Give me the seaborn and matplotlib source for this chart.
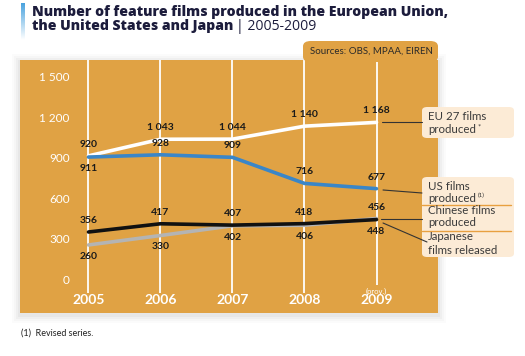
import numpy as np
import pandas as pd
import matplotlib
matplotlib.use("Agg")
import matplotlib.pyplot as plt
import seaborn as sns
from matplotlib.patches import FancyBboxPatch, Rectangle

years = [2005, 2006, 2007, 2008, 2009]
eu27 = [920, 1043, 1044, 1140, 1168]
us = [911, 928, 909, 716, 677]
chinese = [260, 330, 402, 406, 456]
japanese = [356, 417, 407, 418, 448]
yticks = [0, 300, 600, 900, 1200, 1500]
ytick_labels = ["0", "300", "600", "900", "1 200", "1 500"]

series_names = ["EU 27", "US", "Chinese", "Japanese"]
series_vals = [eu27, us, chinese, japanese]
colors = {"EU 27": "#ffffff", "US": "#3a86c8", "Chinese": "#b4b4b4", "Japanese": "#111111"}

df = pd.DataFrame({
    "year": years * 4,
    "value": eu27 + us + chinese + japanese,
    "series": [s for s in series_names for _ in years],
})

W, H = 525, 356
ORANGE = "#e0a244"
sns.set_style("white")
plt.rcParams["font.family"] = ["Lato", "DejaVu Sans"]

fig = plt.figure(figsize=(W / 100, H / 100), dpi=100)

def fx(px):
    return px / W

def fy(py):
    return 1 - py / H

# soft shadow behind the panel
for i, a in enumerate([0.06, 0.05, 0.04, 0.03]):
    d = 2 + i * 2
    fig.patches.append(Rectangle((fx(20 - d), fy(313 + d + 2)), fx(418 + 2 * d), (253 + 2 * d) / H,
                                 transform=fig.transFigure, color="#808080", alpha=a, lw=0, zorder=0))

# panel axes
ax = fig.add_axes([fx(20), fy(313), fx(418), 253 / H])
ax.set_zorder(1)
ax.set_facecolor(ORANGE)
for s in ax.spines.values():
    s.set_visible(False)
ax.set_xlim(2004.049, 2009.854)
ax.set_ylim(-244, 1630)
ax.set_xticks([])
ax.set_yticks([])

ax.vlines(years[:-1], -96, 1630, color="white", lw=1.3, zorder=1)
ax.vlines(years[-1:], -35, 1630, color="white", lw=1.3, zorder=1)

sns.lineplot(data=df, x="year", y="value", hue="series", palette=colors,
             linewidth=2.6, legend=False, ax=ax, zorder=3)
ax.set_xlabel("")
ax.set_ylabel("")

# y labels
for v, lab in zip(yticks, ytick_labels):
    ax.text(2004.74, v, lab, color="white", fontsize=8.5, ha="right", va="center")
# x labels
for yr in years:
    ax.text(yr, -150, str(yr), color="white", fontsize=10, fontweight="bold", ha="center", va="center")
ax.text(2009, -85, "(prov.)", color="white", fontsize=5.5, ha="center", va="center")

def fmt(v):
    return f"{v:,}".replace(",", " ")

# value labels: +1 above, -1 below
positions = {
    "EU 27": [1, 1, 1, 1, 1],
    "US": [-1, 1, 1, 1, 1],
    "Chinese": [-1, -1, -1, -1, 1],
    "Japanese": [1, 1, 1, 1, -1],
}
for name, vals in zip(series_names, series_vals):
    for yr, v, p in zip(years, vals, positions[name]):
        ax.annotate(fmt(v), (yr, v), xytext=(0, 5 * p), textcoords="offset points",
                    ha="center", va="bottom" if p > 0 else "top", fontsize=7.5,
                    fontweight="bold", color="#1a1a1a", zorder=5)

# title and blue bar
grad = np.linspace(1, 0, 50).reshape(-1, 1)
bax = fig.add_axes([fx(21), fy(40), fx(4), 37 / H])
bax.imshow(grad, aspect="auto", cmap=matplotlib.colors.LinearSegmentedColormap.from_list(
    "b", ["#ffffff", "#4aa3df"]), vmin=0, vmax=1)
bax.axis("off")
tfont = ["Open Sans", "DejaVu Sans"]
t1 = fig.text(fx(32), fy(12), "Number of feature films produced in the European Union,",
              fontsize=10, fontweight="heavy", color="#1c1c3c", va="center", family=tfont)
t2 = fig.text(fx(32), fy(26), "the United States and Japan", fontsize=10,
              fontweight="heavy", color="#1c1c3c", va="center", family=tfont)
fig.canvas.draw()
w1 = t1.get_window_extent().width
size = 10 * 414 / w1
t1.set_fontsize(size)
t2.set_fontsize(size)
fig.canvas.draw()
bb = t2.get_window_extent()
fig.text(bb.x1 / W + fx(3), fy(26), "| 2005-2009", fontsize=size, color="#1c1c3c",
         va="center", family=tfont)

# sources tab
fig.patches.append(FancyBboxPatch((fx(303), fy(62)), fx(135), 21 / H,
                                  boxstyle="round,pad=0,rounding_size=0.015",
                                  transform=fig.transFigure, color=ORANGE, lw=0, zorder=1))
fig.text(fx(371), fy(51), "Sources: OBS, MPAA, EIREN", fontsize=7, color="#2a2a2a",
         ha="center", va="center", zorder=3)

# legend boxes
BOX = "#fcebd6"
fig.patches.append(FancyBboxPatch((fx(422), fy(138)), fx(92), 31 / H,
                                  boxstyle="round,pad=0,rounding_size=0.01",
                                  transform=fig.transFigure, color=BOX, lw=0, zorder=2))
fig.patches.append(FancyBboxPatch((fx(422), fy(257)), fx(92), 80 / H,
                                  boxstyle="round,pad=0,rounding_size=0.01",
                                  transform=fig.transFigure, color=BOX, lw=0, zorder=2))
for yy in (205, 231):
    fig.lines.append(plt.Line2D([fx(422), fx(511)], [fy(yy), fy(yy)], transform=fig.transFigure,
                                color="#e8a040", lw=1, zorder=3))

leg_text = [("EU 27 films", 117), ("produced", 129), ("US films", 186), ("produced", 198),
            ("Chinese films", 211), ("produced", 223), ("Japanese", 237), ("films released", 250)]
leg_objs = []
for txt, yy in leg_text:
    leg_objs.append(fig.text(fx(428), fy(yy), txt, fontsize=8.3, color="#3a3a3a",
                             va="center", zorder=4))
fig.canvas.draw()
for idx, sup, fs, dy in [(1, "*", 5.5, -2), (3, "(1)", 4.5, -3)]:
    e = leg_objs[idx].get_window_extent()
    fig.text((e.x1 + 2) / W, fy(leg_text[idx][1] + dy), sup, fontsize=fs, color="#3a3a3a",
             va="center", zorder=4)

# leader lines
leaders = [((382, 122), (422, 122)), ((383, 190), (422, 193)), ((381, 219), (422, 219)),
           ((383, 223), (427, 242))]
for (x0, y0), (x1, y1) in leaders:
    fig.lines.append(plt.Line2D([fx(x0), fx(x1)], [fy(y0), fy(y1)], transform=fig.transFigure,
                                color="#333333", lw=0.8, zorder=3))

fig.text(fx(21), fy(333), "(1)  Revised series.", fontsize=6.5, color="#222222", va="center")

fig.savefig("out.png", dpi=100, facecolor="white")
